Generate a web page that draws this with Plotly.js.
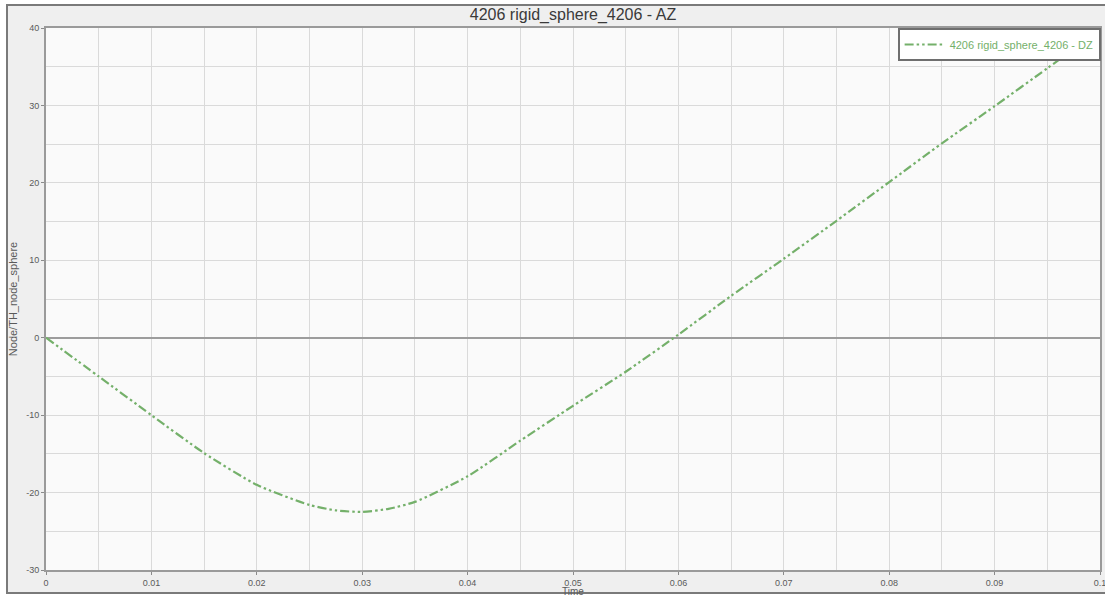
<!DOCTYPE html>
<html>
<head>
<meta charset="utf-8">
<script src="https://cdn.plot.ly/plotly-3.0.1.min.js"></script>
<style>
  html, body { margin: 0; padding: 0; background: #ffffff; overflow: hidden; }
  #panel {
    position: absolute; left: 6px; top: 4px; width: 1104px; height: 590px;
    background: #efefef; border: 2px solid #7a7a7a; box-sizing: border-box;
  }
  #chart { position: absolute; left: 0; top: 0; width: 1105px; height: 596px; }
</style>
</head>
<body>
<div id="panel"></div>
<div id="chart"></div>
<script>
// Displacement history of the rigid sphere node
const timeValues = [0, 0.005, 0.01, 0.015, 0.02, 0.025, 0.0275, 0.03, 0.0325, 0.035, 0.04, 0.045, 0.05,
                    0.055, 0.06, 0.065, 0.07, 0.075, 0.08, 0.085, 0.09, 0.095, 0.1];
const dzValues = [0, -5.0, -10.0, -14.9, -19.0, -21.6, -22.3, -22.5, -22.1, -21.2, -17.9, -13.3, -8.8,
                  -4.4, 0.4, 5.4, 10.2, 15.1, 20.1, 25.1, 29.9, 34.8, 39.7];
const seriesName = '4206 rigid_sphere_4206 - DZ';
const chartTitle = '4206 rigid_sphere_4206 - AZ';
const xAxisTitle = 'Time';
const yAxisTitle = 'Node/TH_node_sphere';
const yTickValues = [-30, -20, -10, 0, 10, 20, 30, 40];
const yTickLabels = ['-30', '-20', '-10', '0', '10', '20', '30', '40'];

const green = '#74b06a';
const fontFamily = 'Liberation Sans, Arial, sans-serif';

const trace = {
  x: timeValues,
  y: dzValues,
  type: 'scatter',
  mode: 'lines',
  name: seriesName,
  line: { color: green, width: 2.2, dash: '9px,3px,2.5px,3px,2.5px,3px', shape: 'spline', smoothing: 0.6 }
};

const tickFont = { family: fontFamily, size: 9, color: '#5a5a5a' };
const gridColor = '#dadada';

const layout = {
  width: 1105,
  height: 596,
  margin: { l: 45.5, r: 5, t: 28, b: 26, pad: 0, autoexpand: false },
  paper_bgcolor: 'rgba(0,0,0,0)',
  plot_bgcolor: '#fafafa',
  showlegend: true,
  title: {
    text: chartTitle,
    font: { family: fontFamily, size: 16, color: '#3a3a3a' },
    x: 0.5, xref: 'paper', xanchor: 'center',
    y: 14, yref: 'container', yanchor: 'middle'
  },
  xaxis: {
    range: [0, 0.1],
    dtick: 0.01,
    tick0: 0,
    showgrid: true,
    gridcolor: gridColor,
    gridwidth: 1,
    minor: { dtick: 0.005, showgrid: true, gridcolor: gridColor, gridwidth: 1 },
    zeroline: false,
    showline: true,
    linecolor: '#9a9a9a',
    linewidth: 2,
    mirror: true,
    ticks: 'outside',
    ticklen: 3,
    tickcolor: '#8a8a8a',
    tickfont: tickFont,
    ticklabeloverflow: 'allow',
    automargin: false
  },
  yaxis: {
    range: [-30, 40],
    tickvals: yTickValues,
    ticktext: yTickLabels,
    showgrid: true,
    gridcolor: gridColor,
    gridwidth: 1,
    minor: { dtick: 5, tick0: 0, showgrid: true, gridcolor: gridColor, gridwidth: 1 },
    zeroline: true,
    zerolinecolor: '#9c9c9c',
    zerolinewidth: 2,
    showline: true,
    linecolor: '#9a9a9a',
    linewidth: 2,
    mirror: true,
    ticks: 'outside',
    ticklen: 3,
    tickcolor: '#8a8a8a',
    tickfont: tickFont,
    automargin: false,
    title: { text: yAxisTitle, font: { family: fontFamily, size: 11, color: '#5a5a5a' }, standoff: 6 }
  },
  annotations: [{
    text: xAxisTitle,
    xref: 'paper', x: 0.5, xanchor: 'center',
    yref: 'paper', y: -0.026, yanchor: 'top',
    showarrow: false,
    font: { family: fontFamily, size: 10, color: '#5a5a5a' }
  }],
  legend: {
    x: 0.808, xanchor: 'left', y: 1, yanchor: 'top',
    bgcolor: '#ffffff',
    bordercolor: '#6e6e6e',
    borderwidth: 2,
    font: { family: fontFamily, size: 11, color: green },
    itemwidth: 40,
    tracegroupgap: 0
  }
};

Plotly.newPlot('chart', [trace], layout, { displayModeBar: false, staticPlot: true });
</script>
</body>
</html>
